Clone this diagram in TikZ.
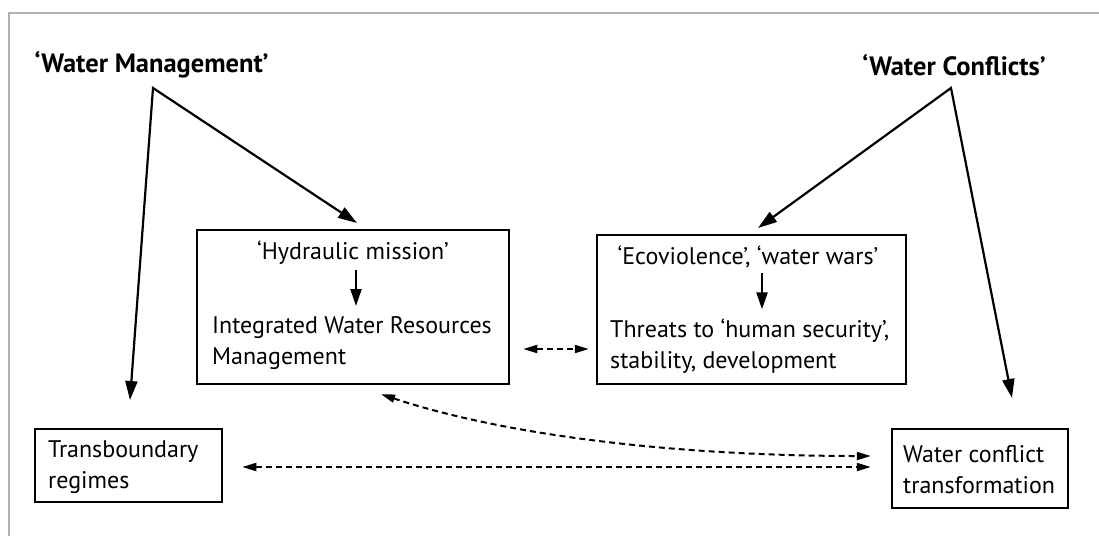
\documentclass[tikz,border=0pt]{standalone}
\usepackage{fontspec}
\setmainfont{PT Sans}
\usetikzlibrary{arrows.meta,calc}
\begin{document}
\begin{tikzpicture}[x=1pt,y=-1pt,
  box/.style={draw, line width=2.5pt, inner sep=0pt},
  txt/.style={font=\fontsize{24}{31}\selectfont, inner sep=0pt},
  ttl/.style={font=\fontsize{26.5}{30}\selectfont\bfseries, inner sep=0pt},
  arr2/.style={line width=2.2pt, line join=miter, {Triangle[length=19pt,width=12pt]}-{Triangle[length=19pt,width=12pt]}},
  small/.style={line width=2.2pt, -{Triangle[length=17pt,width=11pt]}},
  dsh/.style={line width=2pt, dash pattern=on 6pt off 4pt, {Triangle[length=14pt,width=8pt]}-{Triangle[length=14pt,width=8pt]}},
]
\useasboundingbox (0,0) rectangle (1099,536);
\draw[gray!60, line width=1.5pt] (9,536) -- (9,13) -- (1099,13);

% boxes
\node[box, minimum width=312pt, minimum height=154pt] (iwrm) at (353,307) {};
\node[box, minimum width=309pt, minimum height=149pt] (thr) at (751.5,309.5) {};
\node[box, minimum width=187pt, minimum height=73pt] (tb) at (128.5,465.5) {};
\node[box, minimum width=176pt, minimum height=79pt] (wct) at (980,468.5) {};

% titles
\node[ttl] (wm) at (151.5,65) {‘Water Management’};
\node[ttl] (wc) at (954,65) {‘Water Conflicts’};

% texts
\node[txt] (hm) at (353,253) {‘Hydraulic mission’};
\node[txt, anchor=west, align=left] (iw) at (212,343) {Integrated Water Resources\\Management};
\node[txt] (eco) at (748,257) {‘Ecoviolence’, ‘water wars’};
\node[txt, anchor=west, align=left] (thtx) at (610,346) {Threats to ‘human security’,\\stability, development};
\node[txt, anchor=west, align=left] (tbtx) at (48,467) {Transboundary\\regimes};
\node[txt, anchor=west, align=left] (wcttx) at (903,470) {Water conflict\\transformation};

% inner arrows
\draw[small] ($(hm.south)+(3,5)$) -- ++(0,36);
\draw[small] ($(eco.south)+(14,5)$) -- ++(0,36);

% title arrows
\coordinate (wmA) at (153,88);
\coordinate (wcA) at (951,88);
\coordinate (t1) at (130,400);
\coordinate (t2) at (357,223);
\coordinate (t3) at (758,228);
\coordinate (t4) at (1012,398);
\draw[arr2] (t1) -- (wmA) -- (t2);
\draw[arr2] (t3) -- (wcA) -- (t4);

% dashed
\draw[dsh] ([xshift=13pt,yshift=-42pt]iwrm.east) -- ([xshift=-7pt,yshift=-42pt]iwrm.east -| thr.west);
\draw[dsh] ([xshift=19pt,yshift=-1.5pt]tb.east) -- ([xshift=-20pt,yshift=-1.5pt]tb.east -| wct.west);
\draw[dsh] ([xshift=28pt,yshift=-9pt]iwrm.south) .. controls (520,440) and (700,456) .. ([xshift=-20pt,yshift=12.5pt]wct.west);
\end{tikzpicture}
\end{document}
